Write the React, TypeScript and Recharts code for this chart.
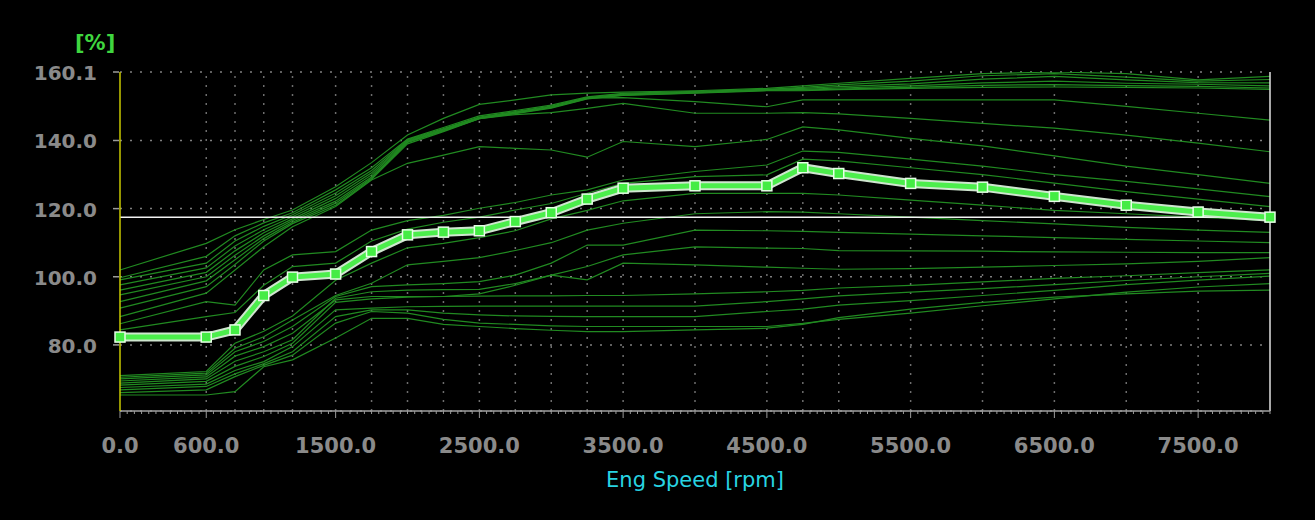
import React from 'react';
import { LineChart, Line, XAxis, YAxis, CartesianGrid, ReferenceLine } from 'recharts';

// Engine speed breakpoints [rpm]
const engSpeed = [0, 600, 800, 1000, 1200, 1500, 1750, 2000, 2250, 2500, 2750, 3000, 3250, 3500, 4000, 4500, 4750, 5000, 5500, 6000, 6500, 7000, 7500, 8000];

// Highlighted (active) curve [%]
const activeCurve = [82.3, 82.3, 84.4, 94.5, 99.9, 100.8, 107.4, 112.3, 113.1, 113.5, 116.2, 118.8, 122.8, 126.0, 126.7, 126.7, 132.0, 130.3, 127.4, 126.3, 123.6, 121.0, 119.0, 117.5];

// Background family of curves [%]
const curveT1 = [102.0, 109.8, 113.8, 116.8, 119.6, 126.4, 133.5, 141.6, 146.5, 150.6, 151.9, 153.4, 153.9, 154.2, 154.6, 155.3, 156.0, 156.8, 158.2, 159.6, 160.1, 159.6, 157.8, 158.8];
const curveT2 = [99.7, 106.0, 112.0, 115.8, 118.8, 125.5, 132.0, 140.4, 143.8, 147.2, 148.8, 150.4, 152.8, 153.8, 154.4, 155.0, 155.6, 156.3, 157.4, 159.0, 159.6, 158.6, 157.4, 157.9];
const curveT3 = [99.1, 104.0, 110.5, 114.8, 118.2, 124.6, 131.2, 140.2, 143.5, 146.9, 148.5, 150.1, 152.6, 153.6, 154.2, 154.9, 155.3, 155.8, 156.6, 158.0, 158.8, 157.8, 157.0, 156.9];
const curveT4 = [97.6, 102.6, 109.0, 113.8, 117.6, 123.8, 130.5, 140.0, 143.3, 146.7, 148.3, 149.9, 152.4, 153.4, 154.1, 154.8, 155.0, 155.4, 156.0, 156.9, 157.4, 156.8, 156.5, 156.0];
const curveT5 = [96.1, 101.3, 107.6, 112.9, 117.0, 123.0, 129.9, 139.8, 143.1, 146.6, 148.1, 149.7, 152.3, 153.3, 154.0, 154.7, 154.8, 155.1, 155.6, 156.2, 156.4, 156.1, 155.9, 155.4];
const curveT6 = [94.7, 100.0, 106.3, 112.0, 116.5, 122.2, 129.3, 139.6, 142.9, 146.4, 147.9, 149.5, 152.2, 153.2, 153.9, 154.6, 154.6, 154.9, 155.3, 155.6, 155.7, 155.6, 155.4, 155.0];
const curveL6 = [92.7, 98.8, 105.0, 111.2, 116.0, 121.6, 128.9, 139.4, 142.8, 146.5, 148.0, 149.6, 152.5, 152.6, 151.4, 149.9, 151.9, 151.9, 151.9, 151.9, 151.9, 150.0, 148.0, 146.0];
const curveL7 = [90.8, 97.1, 103.6, 110.5, 115.6, 121.0, 128.6, 139.0, 142.6, 146.4, 147.6, 148.2, 149.4, 150.9, 148.0, 148.0, 148.2, 147.8, 146.5, 145.0, 143.6, 141.6, 139.2, 136.7];
const curveL8 = [88.3, 95.2, 102.0, 108.8, 114.7, 120.6, 128.4, 133.3, 135.7, 138.2, 137.7, 137.2, 135.1, 139.7, 138.2, 140.3, 144.0, 143.1, 140.6, 138.4, 135.5, 132.5, 130.0, 127.4];
const curveL9 = [86.2, 92.7, 91.7, 102.0, 106.4, 107.4, 113.7, 116.5, 118.0, 120.1, 121.8, 124.0, 125.5, 128.4, 130.9, 132.8, 136.9, 136.5, 134.5, 132.5, 130.0, 128.0, 125.8, 123.5];
const curveL10 = [84.4, 88.3, 89.5, 97.5, 103.0, 104.0, 110.5, 114.0, 116.0, 117.5, 119.6, 121.5, 124.5, 127.4, 129.4, 129.9, 134.5, 134.0, 132.0, 130.0, 127.5, 125.0, 122.8, 120.6];
const curveM1 = [71.0, 72.2, 80.5, 84.0, 88.5, 99.0, 104.0, 108.5, 109.8, 111.5, 113.5, 117.0, 119.5, 122.3, 124.5, 124.5, 124.5, 124.0, 122.5, 121.0, 119.5, 118.5, 117.5, 116.5];
const curveM2 = [70.5, 71.7, 79.0, 82.4, 87.3, 94.5, 98.1, 103.5, 104.5, 105.6, 107.7, 110.0, 113.7, 115.7, 118.5, 119.1, 119.0, 118.5, 117.5, 116.5, 115.5, 114.5, 113.7, 113.0];
const curveN1 = [70.0, 71.2, 78.0, 81.0, 85.4, 94.2, 97.1, 97.6, 98.0, 98.6, 100.5, 104.0, 109.3, 109.3, 113.7, 113.5, 113.3, 113.0, 112.5, 112.0, 111.5, 111.0, 110.5, 110.0];
const curveN2 = [69.4, 70.6, 76.7, 79.5, 83.4, 93.2, 94.2, 94.2, 94.2, 95.0, 97.5, 100.5, 103.0, 106.4, 108.8, 108.4, 108.3, 107.7, 107.6, 107.5, 107.3, 107.2, 107.1, 107.1];
const curveN3 = [68.8, 70.0, 75.2, 78.0, 81.5, 93.7, 95.6, 96.1, 96.2, 96.3, 98.0, 100.5, 99.1, 104.0, 103.5, 102.8, 102.5, 102.2, 102.4, 102.8, 103.3, 103.8, 104.5, 105.6];
const curveN4 = [68.2, 69.3, 73.7, 76.6, 80.5, 92.5, 93.5, 94.0, 94.2, 94.3, 94.4, 94.4, 94.5, 94.5, 95.0, 95.6, 96.0, 96.7, 97.5, 98.5, 99.5, 100.3, 101.2, 102.0];
const curveN5 = [67.5, 68.5, 72.5, 75.1, 79.5, 90.3, 90.8, 91.2, 91.3, 91.4, 91.4, 91.4, 91.4, 91.4, 91.4, 92.7, 93.5, 94.4, 95.5, 96.5, 97.7, 98.9, 100.0, 101.0];
const curveN6 = [66.8, 67.8, 71.5, 74.5, 78.0, 88.3, 90.3, 90.3, 89.3, 88.8, 88.5, 88.4, 88.3, 88.3, 88.3, 89.8, 90.5, 91.7, 93.0, 94.5, 96.0, 97.7, 99.0, 100.2];
const curveN7 = [66.0, 66.8, 70.7, 74.0, 77.0, 86.4, 89.8, 89.3, 87.5, 86.4, 86.0, 85.6, 85.4, 85.4, 85.4, 85.4, 86.3, 87.5, 89.3, 91.5, 93.5, 95.5, 97.0, 98.0];
const curveN8 = [65.3, 65.3, 66.3, 73.6, 75.6, 82.0, 87.8, 87.8, 86.0, 85.4, 84.8, 84.3, 83.9, 83.9, 84.4, 84.9, 86.0, 88.0, 90.5, 92.5, 94.0, 95.0, 95.8, 96.1];

const backgroundCurves = [curveT1, curveT2, curveT3, curveT4, curveT5, curveT6, curveL6, curveL7, curveL8, curveL9, curveL10, curveM1, curveM2, curveN1, curveN2, curveN3, curveN4, curveN5, curveN6, curveN7, curveN8];

// Axis ticks
const yTicks = [80, 100, 120, 140, 160.1];
const yDomain = [60.6, 160.1];
const xLabelTicks = [0, 600, 1500, 2500, 3500, 4500, 5500, 6500, 7500];
const xMinorStep = 50;
const xMax = 8000;
const currentValue = 117.5;

const xAllTicks: number[] = [];
for (let v = 0; v <= xMax; v += xMinorStep) xAllTicks.push(v);

const data = engSpeed.map((x, i) => {
  const row: Record<string, number> = { x, active: activeCurve[i] };
  backgroundCurves.forEach((c, k) => {
    row['c' + k] = c[i];
  });
  return row;
});

const gridBreakpoints = engSpeed.filter((v) => v > 0 && v < xMax);

const XTick = (props: any) => {
  const { x, y, payload } = props;
  const major = xLabelTicks.includes(payload.value);
  return (
    <g>
      <line x1={x} x2={x} y1={y} y2={y + (major ? 7 : 3)} stroke="#9a9a9a" strokeWidth={1} />
      {major && (
        <text x={x} y={y + 42} textAnchor="middle" fill="#8a8a8a" fontFamily="DejaVu Sans" fontWeight="bold" fontSize={21}>
          {Number(payload.value).toFixed(1)}
        </text>
      )}
    </g>
  );
};

const YTick = (props: any) => {
  const { x, y, payload } = props;
  return (
    <g>
      <line x1={x - 7} x2={x - 1} y1={y} y2={y} stroke="#9a9a9a" strokeWidth={1.5} />
      <text x={x - 23} y={y + 8} textAnchor="end" fill="#8a8a8a" fontFamily="DejaVu Sans" fontWeight="bold" fontSize={20}>
        {Number(payload.value).toFixed(1)}
      </text>
    </g>
  );
};

const SquareDot = (props: any) => {
  const { cx, cy } = props;
  if (cx == null || cy == null) return null;
  return <rect x={cx - 5} y={cy - 5} width={10} height={10} fill="#44ec44" stroke="#e6ffe6" strokeWidth={1.5} />;
};

export default function App() {
  return (
    <div style={{ position: 'absolute', left: 0, top: 0, width: 1315, height: 520, background: '#000', overflow: 'hidden' }}>
      <LineChart width={1315} height={520} data={data} margin={{ top: 72, right: 45, bottom: 69, left: 60 }}>
        <CartesianGrid vertical={false} stroke="#808080" strokeDasharray="2 8" strokeWidth={1.5} />
        {gridBreakpoints.map((v) => (
          <ReferenceLine key={'g' + v} x={v} stroke="#6e6e6e" strokeDasharray="2 7" strokeWidth={1.5} />
        ))}
        <XAxis
          dataKey="x"
          type="number"
          domain={[0, xMax]}
          ticks={xAllTicks}
          interval={0}
          height={40}
          tickLine={false}
          tickSize={0}
          tickMargin={0}
          axisLine={{ stroke: '#a0a0a0', strokeWidth: 1.5 }}
          tick={<XTick />}
        />
        <YAxis
          type="number"
          domain={yDomain}
          ticks={yTicks}
          interval={0}
          width={60}
          tickLine={false}
          tickSize={0}
          tickMargin={0}
          axisLine={{ stroke: '#c8c800', strokeWidth: 1.5 }}
          tick={<YTick />}
          allowDataOverflow
        />
        {backgroundCurves.map((_, k) => (
          <Line
            key={'c' + k}
            dataKey={'c' + k}
            type="linear"
            stroke="#218a21"
            strokeWidth={1.2}
            dot={false}
            activeDot={false}
            isAnimationActive={false}
          />
        ))}
        <ReferenceLine y={currentValue} stroke="#f2f2f2" strokeWidth={1.5} />
        <ReferenceLine x={xMax} stroke="#e0e0e0" strokeWidth={1.5} />
        <Line dataKey="active" type="linear" stroke="#cfe6cf" strokeWidth={9} dot={false} activeDot={false} isAnimationActive={false} />
        <Line dataKey="active" type="linear" stroke="#4cee4c" strokeWidth={5} dot={<SquareDot />} activeDot={false} isAnimationActive={false} />
      </LineChart>
      <svg width={1315} height={520} style={{ position: 'absolute', left: 0, top: 0, pointerEvents: 'none' }}>
        <text x={75} y={50} fill="#3fd63f" fontFamily="DejaVu Sans" fontWeight="bold" fontSize={21}>[%]</text>
        <text x={695} y={487} textAnchor="middle" fill="#28d4e2" fontFamily="DejaVu Sans" fontSize={21}>Eng Speed [rpm]</text>
      </svg>
    </div>
  );
}
